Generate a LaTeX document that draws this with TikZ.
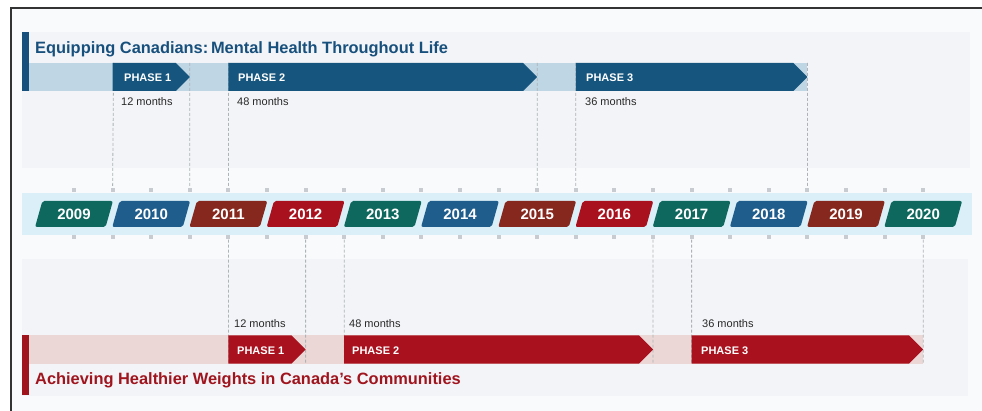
\documentclass[tikz,border=0pt]{standalone}
\usepackage{fontspec}
\setmainfont{Liberation Sans}
\usetikzlibrary{shapes.geometric}

\definecolor{bgpage}{RGB}{249,250,251}
\definecolor{panelgray}{RGB}{243,244,247}
\definecolor{yearband}{RGB}{218,239,247}
\definecolor{blueband}{RGB}{191,214,228}
\definecolor{pinkband}{RGB}{235,216,214}
\definecolor{phaseblue}{RGB}{21,85,126}
\definecolor{phasered}{RGB}{168,17,29}
\definecolor{titleblue}{RGB}{24,80,125}
\definecolor{titlered}{RGB}{160,20,30}
\definecolor{yteal}{RGB}{14,104,94}
\definecolor{yblue}{RGB}{31,93,140}
\definecolor{ybrown}{RGB}{135,40,30}
\definecolor{yred}{RGB}{170,17,30}
\definecolor{tickgray}{RGB}{200,204,208}
\definecolor{dashgray}{RGB}{175,178,182}
\definecolor{monthtext}{RGB}{40,40,40}

% arrow-shaped phase bar: from tick, to tick, top y, colour
\newcommand{\phasearrow}[4]{%
  \fill[#4] ({74+38.6*#1},#3) -- ({74+38.6*#2-14},#3) -- ({74+38.6*#2},{#3+14})
    -- ({74+38.6*#2-14},{#3+28}) -- ({74+38.6*#1},{#3+28}) -- cycle;}

\tikzset{
  year/.style={trapezium, trapezium left angle=70, trapezium right angle=110,
    trapezium stretches=true, minimum width=78pt, minimum height=26pt,
    inner sep=0pt, rounded corners=2pt, text=white,
    font=\fontsize{15}{15}\selectfont\bfseries},
  tick/.style={rectangle, fill=tickgray, minimum size=4pt, inner sep=0pt},
  dashline/.style={draw=dashgray, line width=0.8pt, dash pattern=on 3pt off 2pt},
  phaselbl/.style={anchor=west, text=white, inner sep=0pt,
    font=\fontsize{11}{11}\selectfont\bfseries},
  months/.style={anchor=west, text=monthtext, inner sep=0pt,
    font=\fontsize{11}{11}\selectfont},
  heading/.style={anchor=base west, inner sep=0pt,
    font=\fontsize{16.4}{16.4}\selectfont\bfseries}
}

\begin{document}
\begin{tikzpicture}[x=1pt,y=-1pt]

      \useasboundingbox (0,0) rectangle (982,411);
      \clip (0,0) rectangle (982,411);

      % page and panels
      \draw[fill=bgpage, draw=black!80, line width=1.5pt] (11,8) rectangle (1000,430);
      \fill[panelgray] (22,32) rectangle (970,168);
      \fill[panelgray] (22,259) rectangle (968,396);
      \fill[yearband] (22,193) rectangle (972,235);
      \fill[blueband] (29,63) rectangle (807.4,91);
      \fill[pinkband] (29,335.5) rectangle (923.2,363.5);
      \fill[titleblue] (22,32) rectangle (29,91);
      \fill[titlered] (22,335.5) rectangle (29,395);

      % tick marks above and below the years
      \foreach \i in {0,...,22} {
        \node[tick] (t\i) at ({74+38.6*\i},190) {};
        \node[tick] (b\i) at ({74+38.6*\i},237.5) {};
      }

      % dashed guides, top
      \coordinate (u1)  at (113.6,63);
      \coordinate (u3)  at (189.8,63);
      \coordinate (u4)  at (228.4,63);
      \coordinate (u12) at (537.2,63);
      \coordinate (u13) at (575.8,63);
      \coordinate (u19) at (807.4,63);
      \path (u1)  edge[dashline] (t1);
      \path (u3)  edge[dashline] (t3);
      \path (u4)  edge[dashline] (t4);
      \path (u12) edge[dashline] (t12);
      \path (u13) edge[dashline] (t13);
      \path (u19) edge[dashline] (t19);

      % dashed guides, bottom
      \coordinate (d4)  at (228.4,363.5);
      \coordinate (d6)  at (305.6,363.5);
      \coordinate (d7)  at (344.2,363.5);
      \coordinate (d15) at (653.0,363.5);
      \coordinate (d16) at (691.6,363.5);
      \coordinate (d22) at (923.2,363.5);
      \path (b4)  edge[dashline] (d4);
      \path (b6)  edge[dashline] (d6);
      \path (b7)  edge[dashline] (d7);
      \path (b15) edge[dashline] (d15);
      \path (b16) edge[dashline] (d16);
      \path (b22) edge[dashline] (d22);

      % phases
      \phasearrow{1}{3}{63}{phaseblue}
      \phasearrow{4}{12}{63}{phaseblue}
      \phasearrow{13}{19}{63}{phaseblue}
      \phasearrow{4}{6}{335.5}{phasered}
      \phasearrow{7}{15}{335.5}{phasered}
      \phasearrow{16}{22}{335.5}{phasered}

      \node[phaselbl] (mp1) at (124,77.5) {PHASE 1};
      \node[phaselbl] (mp2) at (238,77.5) {PHASE 2};
      \node[phaselbl] (mp3) at (586,77.5) {PHASE 3};
      \node[phaselbl] (wp1) at (237,350.5) {PHASE 1};
      \node[phaselbl] (wp2) at (352,350.5) {PHASE 2};
      \node[phaselbl] (wp3) at (701,350.5) {PHASE 3};

      \node[months] (mm1) at (121,101.5) {12 months};
      \node[months] (mm2) at (237,101.5) {48 months};
      \node[months] (mm3) at (585,101.5) {36 months};
      \node[months] (wm1) at (234,324) {12 months};
      \node[months] (wm2) at (349,324) {48 months};
      \node[months] (wm3) at (702,324) {36 months};

      % years
      \node[year, fill=yteal]  (2009) at (74.0,214)  {2009};
      \node[year, fill=yblue]  (2010) at (151.2,214) {2010};
      \node[year, fill=ybrown] (2011) at (228.4,214) {2011};
      \node[year, fill=yred]   (2012) at (305.6,214) {2012};
      \node[year, fill=yteal]  (2013) at (382.8,214) {2013};
      \node[year, fill=yblue]  (2014) at (460.0,214) {2014};
      \node[year, fill=ybrown] (2015) at (537.2,214) {2015};
      \node[year, fill=yred]   (2016) at (614.4,214) {2016};
      \node[year, fill=yteal]  (2017) at (691.6,214) {2017};
      \node[year, fill=yblue]  (2018) at (768.8,214) {2018};
      \node[year, fill=ybrown] (2019) at (846.0,214) {2019};
      \node[year, fill=yteal]  (2020) at (923.2,214) {2020};

      % headings
      \node[heading, text=titleblue] (mh) at (35,53.5)
        {Equipping Canadians:\,Mental Health Throughout Life};
      \node[heading, text=titlered] (hw) at (35,384.5)
        {Achieving Healthier Weights in Canada’s Communities};

    \end{tikzpicture}
\end{document}
